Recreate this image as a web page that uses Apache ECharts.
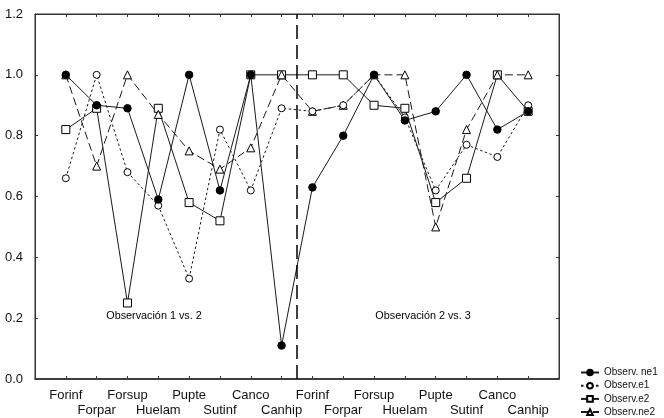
<!DOCTYPE html>
<html><head><meta charset="utf-8">
<script src="https://cdn.jsdelivr.net/npm/echarts@6/dist/echarts.min.js"></script>
<style>html,body{margin:0;padding:0;background:#fff;}#c{width:664px;height:418px;}</style>
</head><body><div id="c"></div>
<script>
var categories = ['Forinf','Forpar','Forsup','Huelam','Pupte','Sutinf','Canco','Canhip','Forinf','Forpar','Forsup','Huelam','Pupte','Sutinf','Canco','Canhip'];
var ne1 = [1.0,0.90,0.89,0.59,1.0,0.62,1.0,0.11, 0.63,0.80,1.0,0.85,0.88,1.0,0.82,0.88];
var e1  = [0.66,1.0,0.68,0.57,0.33,0.82,0.62,0.89, 0.88,0.90,1.0,0.86,0.62,0.77,0.73,0.90];
var e2  = [0.82,0.89,0.25,0.89,0.58,0.52,1.0,1.0, 1.0,1.0,0.90,0.89,0.58,0.66,1.0,0.88];
var ne2 = [1.0,0.70,1.0,0.87,0.75,0.69,0.76,1.0, 0.88,0.90,1.0,1.0,0.50,0.82,1.0,1.0];
var seriesNames = ['Observ. ne1','Observ.e1','Observ.e2','Observ.ne2'];
var yTicks = [0,0.2,0.4,0.6,0.8,1.0,1.2];
var annotations = ['Observación 1 vs. 2','Observación 2 vs. 3'];

function pts(arr){ return arr.map(function(v,i){ return [i,v]; }); }
var font = 'Liberation Sans';
var chart = echarts.init(document.getElementById('c'), null, {renderer:'canvas'});
var half = categories.length/2;
function mk(name, data, symbol, fill, dash, size, extra){
  var s = {
    name: name, type:'line', data: pts(data), symbol: symbol, symbolSize: size,
    lineStyle:{color:'#1a1a1a', width:1, type:dash},
    itemStyle:{color:fill, borderColor:'#000', borderWidth:1},
    emphasis:{disabled:true}, animation:false
  };
  if (extra) for (var k in extra) s[k]=extra[k];
  return s;
}
var option = {
  backgroundColor:'#fff',
  textStyle:{fontFamily:font},
  grid:{left:35, top:14, right:105, bottom:35, show:true, borderColor:'#333', borderWidth:1},
  xAxis:[{
    type:'value', min:-1, max:categories.length, interval:1,
    axisLine:{show:true, onZero:false, lineStyle:{color:'#222', width:1.5}},
    axisTick:{show:true, inside:true, length:3, lineStyle:{color:'#333'}},
    splitLine:{show:false},
    axisLabel:{margin:9, fontSize:13, color:'#111', lineHeight:15, fontFamily:font,
      formatter:function(v){ var i=Math.round(v); if(i<0||i>=categories.length||Math.abs(v-i)>1e-6) return ''; return (i%2?'\n':'')+categories[i]; }}
  },{
    type:'value', position:'top', min:-1, max:categories.length, interval:1,
    axisLine:{show:true, onZero:false, lineStyle:{color:'#333'}},
    axisTick:{show:true, inside:true, length:3, lineStyle:{color:'#333'}},
    axisLabel:{show:false}, splitLine:{show:false}
  }],
  yAxis:[{
    type:'value', min:yTicks[0], max:yTicks[yTicks.length-1], interval:0.2,
    axisLine:{show:true, onZero:false, lineStyle:{color:'#333'}},
    axisTick:{show:true, inside:true, length:3, lineStyle:{color:'#333'}},
    splitLine:{show:false},
    axisLabel:{margin:12, fontSize:13, color:'#111', fontFamily:font, formatter:function(v){return v.toFixed(1);}}
  },{
    type:'value', position:'right', min:yTicks[0], max:yTicks[yTicks.length-1], interval:0.2,
    axisLine:{show:true, onZero:false, lineStyle:{color:'#333'}},
    axisTick:{show:true, inside:true, length:3, lineStyle:{color:'#333'}},
    axisLabel:{show:false}, splitLine:{show:false}
  }],
  legend:{
    orient:'vertical', left:580, top:367, padding:0, itemWidth:18, itemHeight:7, itemGap:2.2,
    textStyle:{fontSize:10, lineHeight:11, color:'#111', fontFamily:font},
    data: seriesNames
  },
  series:[
    mk(seriesNames[2], e2, 'rect', '#fff', 'solid', 8, {
      markLine:{silent:true, symbol:['none','none'], label:{show:false},
        lineStyle:{color:'#000', width:1.5, type:[14,6]},
        data:[{xAxis: half-0.5}]},
      markPoint:{symbol:'rect', symbolSize:1, itemStyle:{color:'rgba(0,0,0,0)'},
        label:{show:true, position:'inside', color:'#000', fontSize:10.8, fontFamily:font, formatter:function(p){return p.name;}},
        data:[{name:annotations[0], coord:[2.86,0.208]},{name:annotations[1], coord:[11.59,0.208]}]}
    }),
    mk(seriesNames[3], ne2, 'triangle', '#fff', [8,4], 8),
    mk(seriesNames[1], e1, 'circle', '#fff', [2.5,2.5], 7),
    mk(seriesNames[0], ne1, 'circle', '#000', 'solid', 7.5)
  ]
};
chart.setOption(option);
</script></body></html>
